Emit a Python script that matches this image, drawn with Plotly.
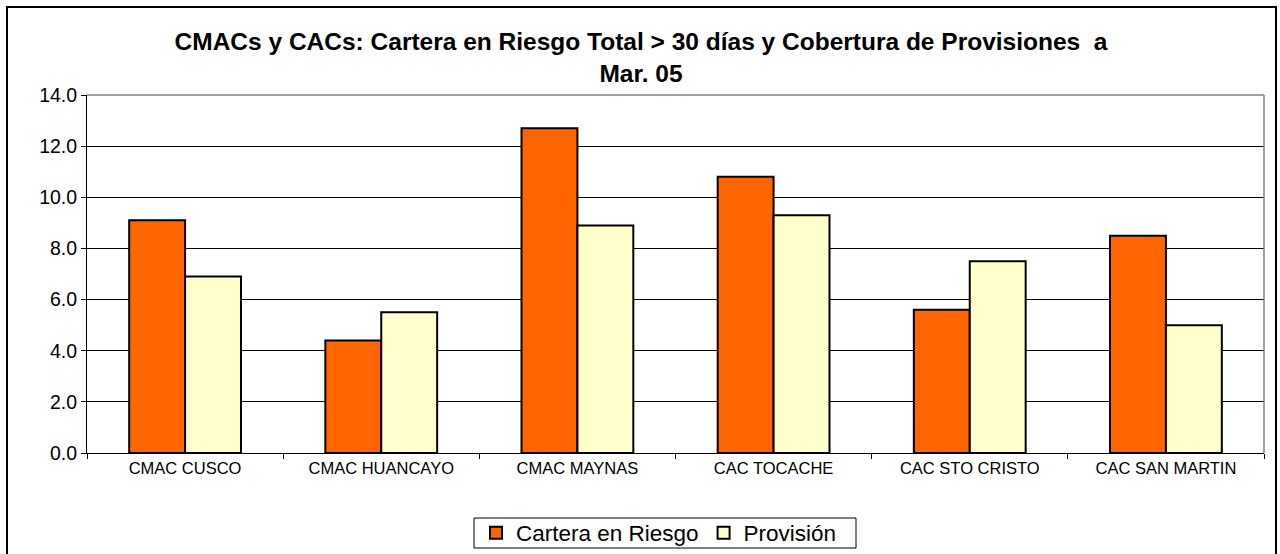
import plotly.graph_objects as go

categories = ["CMAC CUSCO", "CMAC HUANCAYO", "CMAC MAYNAS", "CAC TOCACHE", "CAC STO CRISTO", "CAC SAN MARTIN"]
cartera_riesgo = [9.1, 4.4, 12.7, 10.8, 5.6, 8.5]
provision = [6.9, 5.5, 8.9, 9.3, 7.5, 5.0]
y_ticks = [0, 2, 4, 6, 8, 10, 12, 14]
y_tick_labels = ["0.0", "2.0", "4.0", "6.0", "8.0", "10.0", "12.0", "14.0"]

FONT = "Liberation Sans, Arial, sans-serif"

fig = go.Figure()
fig.add_trace(go.Bar(name="Cartera en Riesgo", x=categories, y=cartera_riesgo,
                     marker=dict(color="#FF6600", line=dict(color="black", width=2))))
fig.add_trace(go.Bar(name="Provisión", x=categories, y=provision,
                     marker=dict(color="#FFFFCC", line=dict(color="black", width=2))))

L, R, T, B = 87, 16, 95, 101
W, H = 1280, 554
pw, ph = W - L - R, H - T - B

def px(x):
    return (x - L) / pw

def py(y):
    return (H - B - y) / ph

fig.update_layout(
    template="none",
    width=W, height=H,
    margin=dict(l=L, r=R, t=T, b=B, autoexpand=False),
    paper_bgcolor="white", plot_bgcolor="white",
    barmode="group", bargap=0.43, bargroupgap=0,
    font=dict(family=FONT, color="black"),
    title=dict(text="<b>CMACs y CACs: Cartera en Riesgo Total > 30 días y Cobertura de Provisiones  a<br>Mar. 05</b>",
               x=641 / W, xanchor="center", xref="container", y=1 - 50 / H, yanchor="middle", yref="container",
               font=dict(size=24.5, family=FONT, color="black")),
    xaxis=dict(showline=True, linecolor="black", linewidth=1, ticks="outside", ticklen=5,
               tickcolor="black", tickfont=dict(size=16.5, family=FONT, color="black"),
               showgrid=False, tickson="boundaries", automargin=False),
    yaxis=dict(range=[0, 14], tickvals=y_ticks, ticktext=y_tick_labels,
               showline=True, linecolor="black", linewidth=1, ticks="outside", ticklen=5,
               tickcolor="black", tickfont=dict(size=19.5, family=FONT, color="black"),
               showgrid=True, gridcolor="black", gridwidth=1, zeroline=False, automargin=False),
    legend=dict(orientation="h", x=659 / W, xanchor="center", xref="container",
                y=1 - 533 / H, yanchor="middle", yref="container",
                borderwidth=0, font=dict(size=22.5, family=FONT, color="black"),
                traceorder="normal", itemwidth=30, bgcolor="rgba(0,0,0,0)"),
    showlegend=True,
    shapes=[
        dict(type="rect", xref="paper", yref="paper", x0=px(7), x1=px(1276), y0=py(560), y1=py(7),
             line=dict(color="black", width=2), layer="below"),
        dict(type="rect", xref="paper", yref="paper", x0=px(474), x1=px(856), y0=py(548), y1=py(518),
             line=dict(color="black", width=1), fillcolor="white", layer="below"),
        dict(type="line", xref="paper", yref="paper", x0=0, x1=1, y0=1, y1=1,
             line=dict(color="#808080", width=1.5)),
        dict(type="line", xref="paper", yref="paper", x0=1, x1=1, y0=0, y1=1,
             line=dict(color="#808080", width=1.5)),
    ],
)

fig.write_html("out.html", config={"displayModeBar": False},
               post_script="document.body.style.margin='0';document.body.style.overflow='hidden';")
